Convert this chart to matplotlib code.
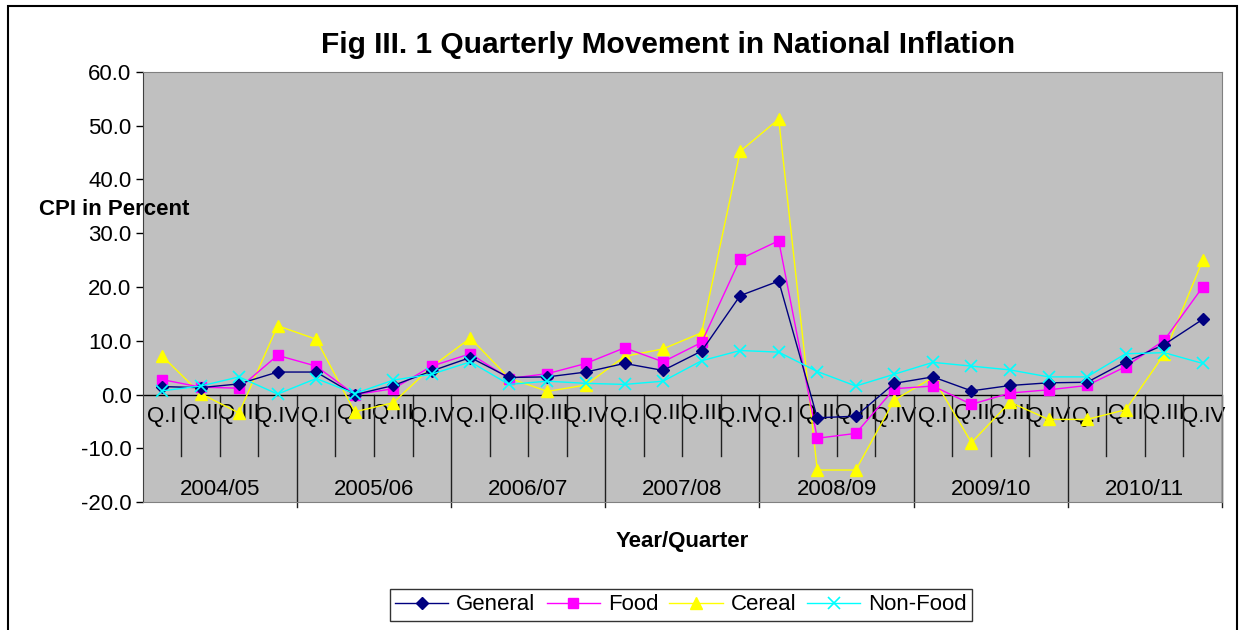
# quarterly movement in national inflation (Excel-style line chart)

import numpy as np
import matplotlib
matplotlib.use("Agg")
import matplotlib.pyplot as plt
from matplotlib.patches import Rectangle

plt.rcParams["font.family"] = ["Liberation Sans", "DejaVu Sans"]

years = ["2004/05", "2005/06", "2006/07", "2007/08", "2008/09", "2009/10", "2010/11"]
quarters = ["Q.I", "Q.II", "Q.III", "Q.IV"]

general = [1.5, 1.3, 2.0, 4.2, 4.2, 0.0, 1.7, 4.4,
           6.9, 3.2, 3.3, 4.2, 5.8, 4.5, 8.1, 18.4,
           21.1, -4.3, -4.0, 2.1, 3.3, 0.7, 1.7, 2.2,
           2.3, 6.1, 9.3, 14.0]
food = [2.8, 1.4, 1.2, 7.3, 5.3, 0.0, 1.1, 5.3,
        7.6, 3.0, 3.9, 5.8, 8.7, 6.1, 9.7, 25.2,
        28.6, -8.1, -7.2, 1.1, 1.6, -1.8, 0.3, 0.9,
        1.7, 5.2, 10.1, 20.0]
cereal = [7.2, 0.2, -3.4, 12.8, 10.3, -3.2, -1.5, 5.2,
          10.5, 3.1, 0.6, 1.8, 7.1, 8.5, 11.5, 45.2,
          51.2, -14.0, -14.0, -1.0, 3.2, -8.9, -1.4, -4.6,
          -4.6, -2.8, 7.5, 25.0]
non_food = [0.7, 1.6, 3.3, 0.1, 3.0, 0.2, 2.7, 3.8,
            6.1, 1.9, 2.5, 2.1, 1.9, 2.5, 6.3, 8.2,
            7.9, 4.3, 1.6, 3.8, 6.0, 5.3, 4.6, 3.3,
            3.3, 7.6, 7.8, 5.8]

FS = 16  # base font size

W, H = 1239, 630
fig = plt.figure(figsize=(W/100, H/100), dpi=100)
ax = fig.add_axes([142.7/W, 1-502.3/H, (1222-142.7)/W, (502.3-71.7)/H])
ax.set_facecolor("#C0C0C0")

x = np.arange(len(general))
ax.plot(x, general, color="#000080", lw=1, marker="D", ms=6.5, label="General", zorder=5)
ax.plot(x, food, color="#FF00FF", lw=1, marker="s", ms=7.5, label="Food", zorder=4)
ax.plot(x, cereal, color="#FFFF00", lw=1, marker="^", ms=9, label="Cereal", zorder=3)
ax.plot(x, non_food, color="#00FFFF", lw=1, marker="x", ms=9, mew=1.2, label="Non-Food", zorder=6)

ax.set_xlim(-0.5, len(x)-0.5)
ax.set_ylim(-20, 60)
ax.set_yticks(np.arange(-20, 61, 10))
ax.set_yticklabels([f"{v:.1f}" for v in np.arange(-20, 61, 10)], fontsize=FS)
ax.tick_params(axis="y", direction="out", length=5, width=1, pad=3)
ax.set_xticks([])

for s in ["top", "right", "bottom"]:
    ax.spines[s].set_color("#808080")
ax.spines["left"].set_color("#404040")

# category axis crosses at zero
ax.axhline(0, color="black", lw=1, zorder=2)

# quarter labels and separators
for i in range(len(x)):
    q = quarters[i % 4]
    dy = -4.0 if q in ("Q.I", "Q.IV") else -3.5
    ax.text(i, dy, q, ha="center", va="center", fontsize=FS, zorder=1)
    if i % 4 != 0:
        ax.plot([i-0.5, i-0.5], [0, -11.4], color="#202020", lw=1, zorder=1)

for j, yr in enumerate(years):
    ax.text(4*j+1.5, -17.6, yr, ha="center", va="center", fontsize=FS)
    xb = 4*(j+1)-0.5
    ax.plot([xb, xb], [0, -20.9], color="#202020", lw=1, clip_on=False, zorder=1)

fig.text(668/W, 1-45/H, "Fig III. 1 Quarterly Movement in National Inflation",
         ha="center", va="center", fontsize=21.5, fontweight="bold")
fig.text(114/W, 1-210/H, "CPI in Percent", ha="center", va="center",
         fontsize=FS, fontweight="bold")
fig.text(682/W, 1-541/H, "Year/Quarter", ha="center", va="center",
         fontsize=FS, fontweight="bold")

leg = fig.legend(loc="center", bbox_to_anchor=(681/W, 1-605/H), ncol=4, fontsize=FS,
                 frameon=True, fancybox=False, edgecolor="black", handlelength=2.4,
                 columnspacing=0.5, handletextpad=0.35, borderpad=0.25, borderaxespad=0)
leg.get_frame().set_linewidth(1)

# outer chart border
fig.patches.append(Rectangle((7.5/W, -0.05), (1237-7.5)/W, 1.05-6/H,
                             transform=fig.transFigure, fill=False, ec="black", lw=1.5))

fig.savefig("out.png", dpi=100)
